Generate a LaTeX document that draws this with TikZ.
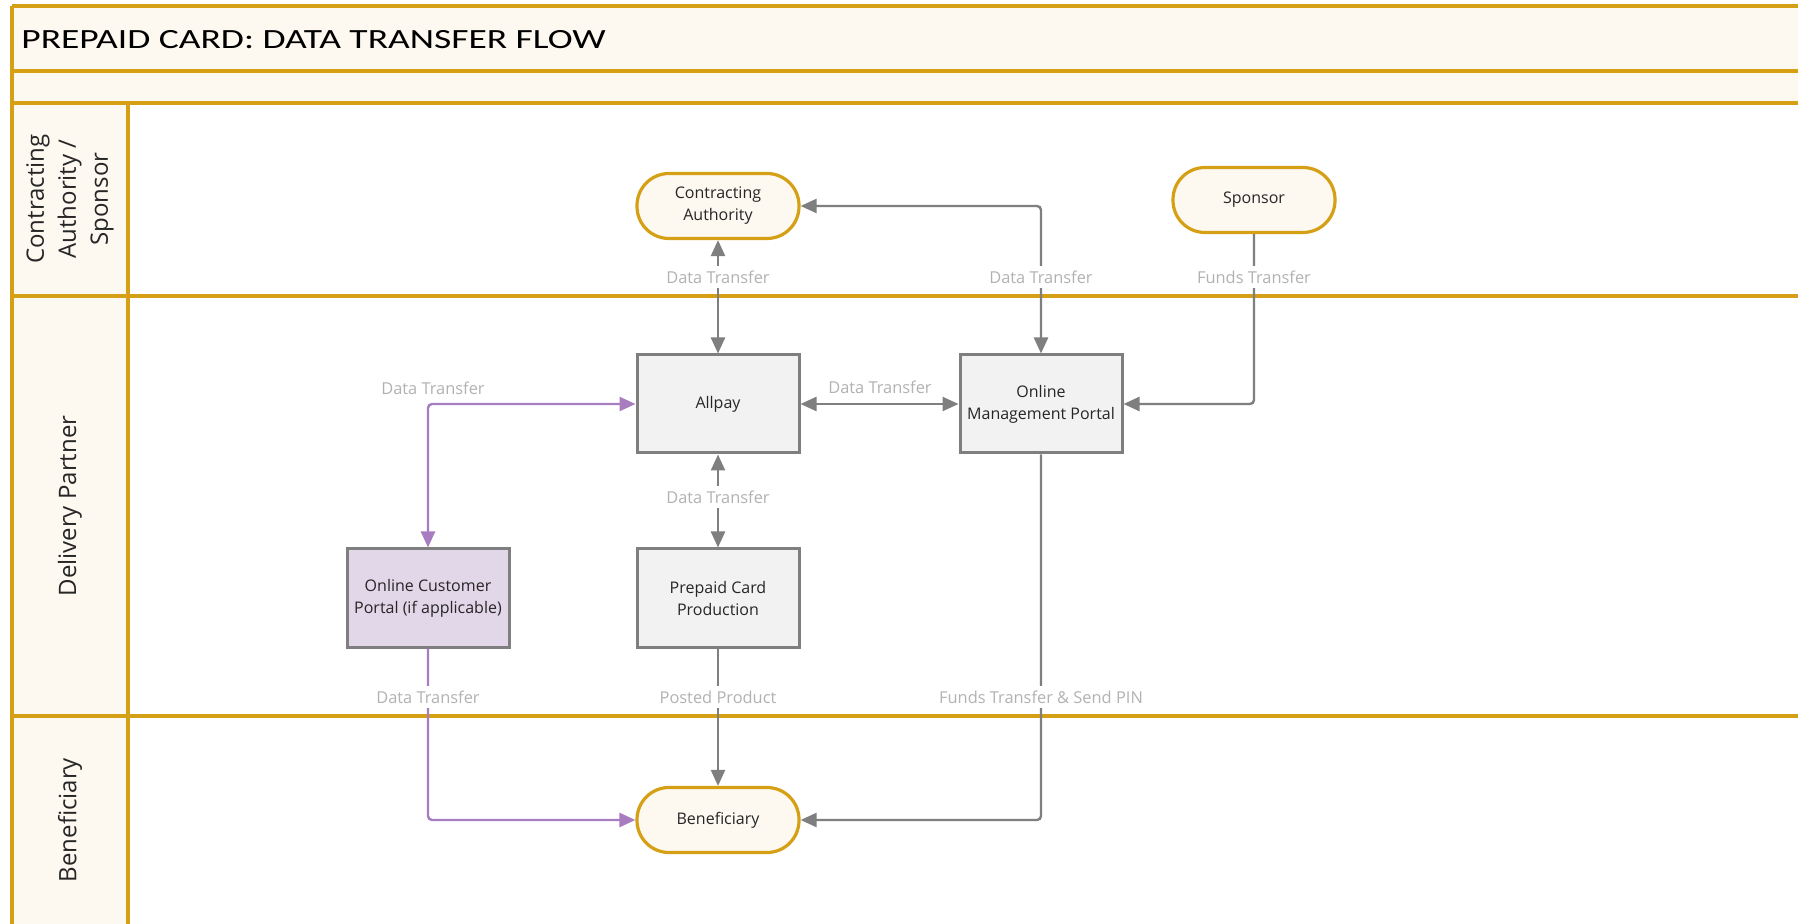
\documentclass[tikz,border=0pt]{standalone}
\usepackage{graphicx}
\usepackage{fontspec}
\setmainfont{Open Sans}
\newfontfamily\titlefont{Carlito}
\usetikzlibrary{arrows.meta}

\definecolor{lanegold}{RGB}{214,160,22}
\definecolor{lanecream}{RGB}{253,248,240}
\definecolor{boxgrey}{RGB}{127,127,127}
\definecolor{boxfill}{RGB}{242,242,242}
\definecolor{portalfill}{RGB}{226,214,233}
\definecolor{flowpurple}{RGB}{167,125,192}
\definecolor{labelgrey}{RGB}{178,178,178}
\definecolor{textdark}{RGB}{38,38,38}

\begin{document}
\begin{tikzpicture}[x=0.5pt,y=-0.5pt,
    lane/.style={draw=lanegold,line width=1.6pt},
    terminal/.style={draw=lanegold,fill=lanecream,line width=1.6pt,rounded corners=16pt,
        minimum width=81pt,minimum height=32.5pt,align=center,text=textdark,font=\fontsize{8}{11}\selectfont},
    process/.style={draw=boxgrey,fill=boxfill,line width=1.5pt,inner xsep=1pt,
        minimum width=81pt,minimum height=49pt,align=center,text=textdark,font=\fontsize{8}{11}\selectfont},
    flow/.style={draw=boxgrey,line width=1.2pt,rounded corners=2pt},
    pflow/.style={flow,draw=flowpurple},
    onehead/.style={-{Triangle[length=8pt,width=7pt]}},
    twoheads/.style={{Triangle[length=8pt,width=7pt]}-{Triangle[length=8pt,width=7pt]}},
    lbl/.style={fill=white,inner xsep=1pt,inner ysep=2.5pt,text=labelgrey,font=\fontsize{8.2}{10}\selectfont},
    lanetext/.style={rotate=90,align=center,text=textdark,font=\fontsize{12}{16}\selectfont}]

    % white page, fixed size
    \fill[white] (0,0) rectangle (1798,924);
    \useasboundingbox (0,0) rectangle (1798,924);
    \clip (0,0) rectangle (1798,924);

    % swimlane backgrounds
    \fill[lanecream] (12,6) rectangle (1798,103);
    \fill[lanecream] (12,103) rectangle (128,924);

    % swimlane lines
    \foreach \y in {6,71,103,296,716}
        \draw[lane] (12,\y) -- (1798,\y);
    \draw[lane] (12,6) -- (12,924);
    \draw[lane] (128,103) -- (128,924);

    % title
    \node[anchor=base west,inner sep=0pt] (title) at (21,49)
        {\titlefont\fontsize{13.9}{16}\selectfont\scalebox{1.35}[1]{PREPAID CARD: DATA TRANSFER FLOW}};

    % lane names
    \node[lanetext] (sponsorlane) at (70,199) {Contracting\\Authority /\\Sponsor};
    \node[lanetext] (deliverylane) at (70,506) {Delivery Partner};
    \node[lanetext] (beneficiarylane) at (70,820) {Beneficiary};

    % parties and systems
    \node[terminal] (ca) at (718,206) {Contracting\\Authority};
    \node[terminal] (sponsor) at (1254,200) {Sponsor};
    \node[process] (allpay) at (718,404) {Allpay};
    \node[process] (omp) at (1041,404) {Online\\Management Portal};
    \node[process,fill=portalfill] (ocp) at (428,598) {Online Customer\\Portal (if applicable)};
    \node[process] (pcp) at (718,598) {Prepaid Card\\Production};
    \node[terminal] (ben) at (718,820) {Beneficiary};

    % grey flows
    \draw[flow,twoheads] (ca) -- (allpay);
    \draw[flow,twoheads] (omp.north) |- (ca.east);
    \draw[flow,onehead] (sponsor.south) |- (omp.east);
    \draw[flow,twoheads] (allpay) -- (omp);
    \draw[flow,twoheads] (allpay) -- (pcp);
    \draw[flow,onehead] (pcp) -- (ben);
    \draw[flow,onehead] (omp.south) |- (ben.east);

    % purple flows
    \draw[pflow,twoheads] (allpay.west) -| (ocp.north);
    \draw[pflow,onehead] (ocp.south) |- (ben.west);

    % flow labels
    \node[lbl] (lca) at (718,277) {Data Transfer};
    \node[lbl] (lomp) at (1041,277) {Data Transfer};
    \node[lbl] (lsponsor) at (1254,277) {Funds Transfer};
    \node[lbl,fill=none] (lallpay) at (880,387) {Data Transfer};
    \node[lbl,fill=none] (lportal) at (433,388) {Data Transfer};
    \node[lbl] (lpcp) at (718,497) {Data Transfer};
    \node[lbl] (locp) at (428,697) {Data Transfer};
    \node[lbl] (lposted) at (718,697) {Posted Product};
    \node[lbl] (lpin) at (1041,697) {Funds Transfer \& Send PIN};

\end{tikzpicture}
\end{document}
